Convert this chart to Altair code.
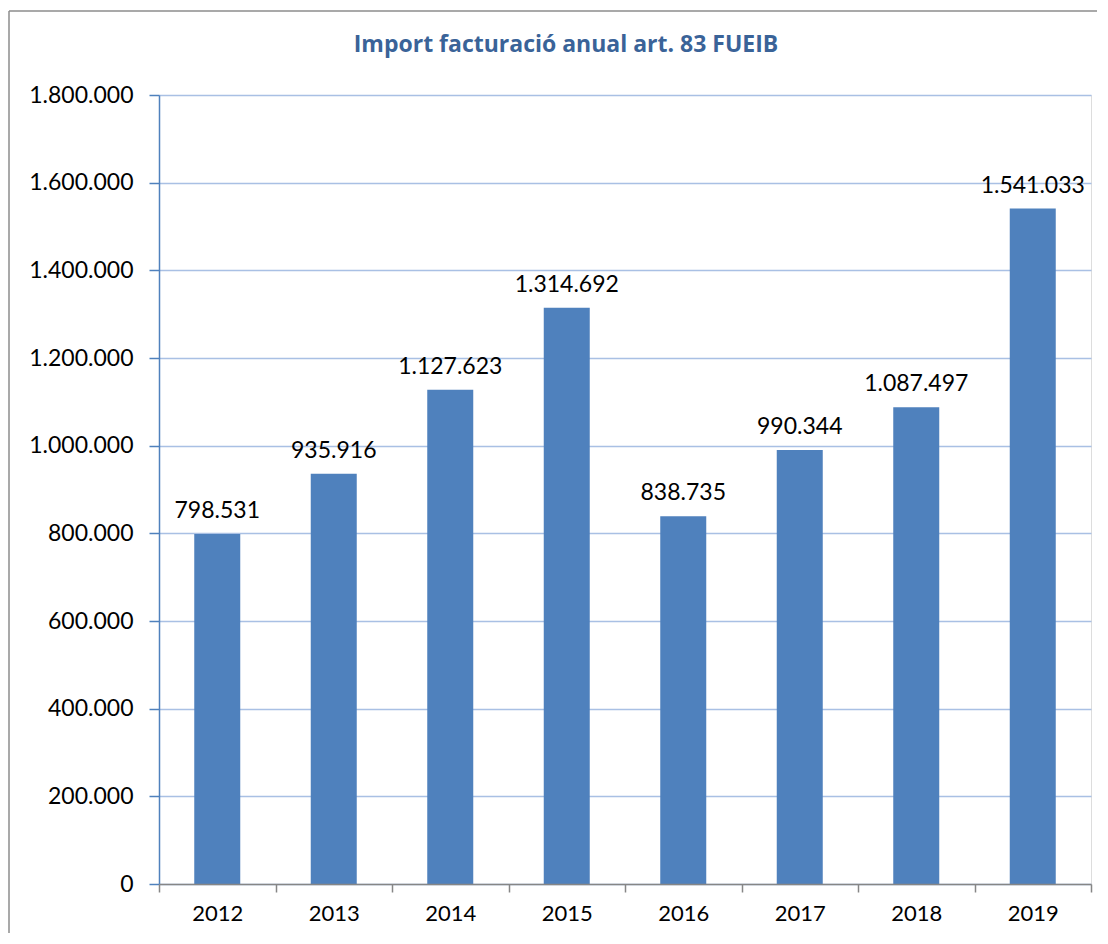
import altair as alt
import pandas as pd

years = ["2012", "2013", "2014", "2015", "2016", "2017", "2018", "2019"]
amounts = [798531, 935916, 1127623, 1314692, 838735, 990344, 1087497, 1541033]
y_ticks = [0, 200000, 400000, 600000, 800000, 1000000, 1200000, 1400000, 1600000, 1800000]
title_text = ["Import facturació anual art. 83 FUEIB"]

df = pd.DataFrame({"year": years, "amount": amounts})

FONT = "Lato"
W, H = 932, 789

base = alt.Chart(df)

x_enc = alt.X(
    "year:N",
    sort=years,
    scale=alt.Scale(paddingInner=0, paddingOuter=0),
    axis=alt.Axis(
        title=None, labelAngle=0, labelFontSize=22, labelFont=FONT, labelColor="#000000",
        domainColor="#868686", domainWidth=1.5, tickColor="#868686", tickWidth=1.5,
        tickSize=8, tickBand="extent", labelPadding=11, grid=False, zindex=2,
    ),
)
y_enc = alt.Y(
    "amount:Q",
    scale=alt.Scale(domain=[0, 1800000], nice=False),
    axis=alt.Axis(
        title=None, values=y_ticks, format=",d", labelFontSize=23, labelFont=FONT,
        labelColor="#000000", domainColor="#4F81BD", domainWidth=1.5, tickColor="#4F81BD",
        tickWidth=1.5, tickSize=10, labelPadding=16, grid=True, gridColor="#A9C0E4",
        gridWidth=1.5,
    ),
)

bars = base.mark_bar(color="#4F81BD", size=46).encode(x=x_enc, y=y_enc)
labels = base.mark_text(
    dy=-16, baseline="alphabetic", fontSize=23, font=FONT, color="#000000"
).encode(x=alt.X("year:N", sort=years), y="amount:Q", text=alt.Text("amount:Q", format=",d"))

frame_data = alt.Data(values=[{"k": 1}])
left_line = alt.Chart(frame_data).mark_rule(color="#8C8C8C", strokeWidth=1.5).encode(
    x=alt.value(-150), y=alt.value(-84), y2=alt.value(838)
)
top_line = alt.Chart(frame_data).mark_rule(color="#8C8C8C", strokeWidth=1.5).encode(
    x=alt.value(-150), x2=alt.value(938), y=alt.value(-84)
)
title = alt.Chart(alt.Data(values=[{"t": title_text[0]}])).mark_text(
    font="Open Sans", fontSize=23, fontWeight="bold", color="#3A6398",
    align="center", baseline="alphabetic",
).encode(x=alt.value(407), y=alt.value(-43), text="t:N")

chart = alt.layer(bars, labels, left_line, top_line, title).properties(
    width=W,
    height=H,
    padding={"left": 0, "top": 2, "right": 0, "bottom": 0},
).configure_view(stroke=None).configure(
    locale={"number": {"decimal": ",", "thousands": ".", "grouping": [3], "currency": ["", " €"]}}
)

chart.save("out.html", embed_options={"renderer": "svg", "actions": False})
